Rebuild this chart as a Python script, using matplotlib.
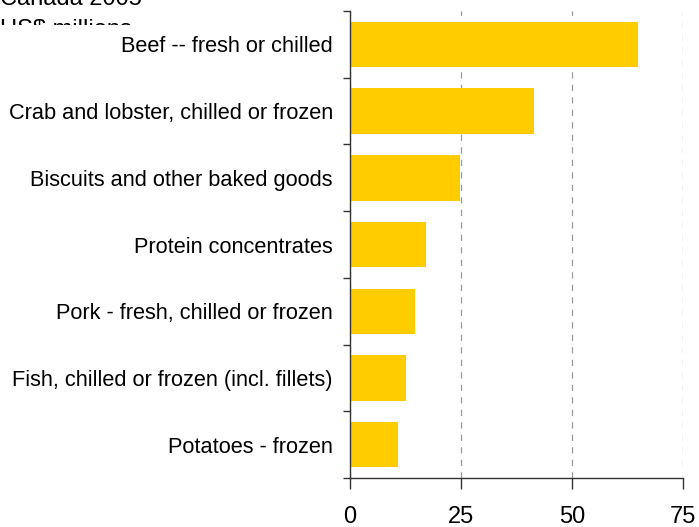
import matplotlib.pyplot as plt
from matplotlib.transforms import Bbox, TransformedBbox
import numpy as np

plt.rcParams['font.family'] = ['Liberation Sans', 'DejaVu Sans']

categories = [
    'Beef -- fresh or chilled',
    'Crab and lobster, chilled or frozen',
    'Biscuits and other baked goods',
    'Protein concentrates',
    'Pork - fresh, chilled or frozen',
    'Fish, chilled or frozen (incl. fillets)',
    'Potatoes - frozen',
]
values = [64.8, 41.4, 24.7, 17.1, 14.7, 12.6, 10.8]
x_ticks = [0, 25, 50, 75]

fig = plt.figure(figsize=(6.99, 5.27), dpi=100)
ax = fig.add_axes([0.5007, 0.093, 0.4764, 0.886])

y = np.arange(len(categories))
ax.barh(y, values, height=0.68, color='#ffcc00', zorder=2)
ax.set_ylim(len(categories) - 0.5, -0.5)
ax.set_xlim(0, 75)

# category labels centred, tick marks on the boundaries
ax.set_yticks(y)
ax.set_yticklabels(categories, fontsize=15.7)
ax.tick_params(axis='y', which='major', length=0, pad=12.3)
ax.set_yticks(np.arange(-0.5, len(categories)), minor=True)
ax.tick_params(axis='y', which='minor', length=5, width=1, color='#333333')

ax.set_xticks(x_ticks)
ax.tick_params(axis='x', length=8, width=1, color='#333333', labelsize=17, pad=12)

ax.xaxis.grid(True, linestyle=(0, (5, 5)), color='#999999', linewidth=0.9, zorder=0)
for s in ['top', 'right']:
    ax.spines[s].set_visible(False)
for s in ['left', 'bottom']:
    ax.spines[s].set_color('#333333')
    ax.spines[s].set_linewidth(1)

# header lines, cut off at the top of the image
clip = TransformedBbox(Bbox([[0, 0.9526], [0.45, 1.0]]), fig.transFigure)
for txt, yy in [('Canada 2005', 0.9905), ('US$ millions', 0.9317)]:
    t = fig.text(0.0, yy, txt, fontsize=17, va='baseline', ha='left')
    t.set_clip_box(clip)
    t.set_clip_on(True)

fig.savefig('out.png', dpi=100)
